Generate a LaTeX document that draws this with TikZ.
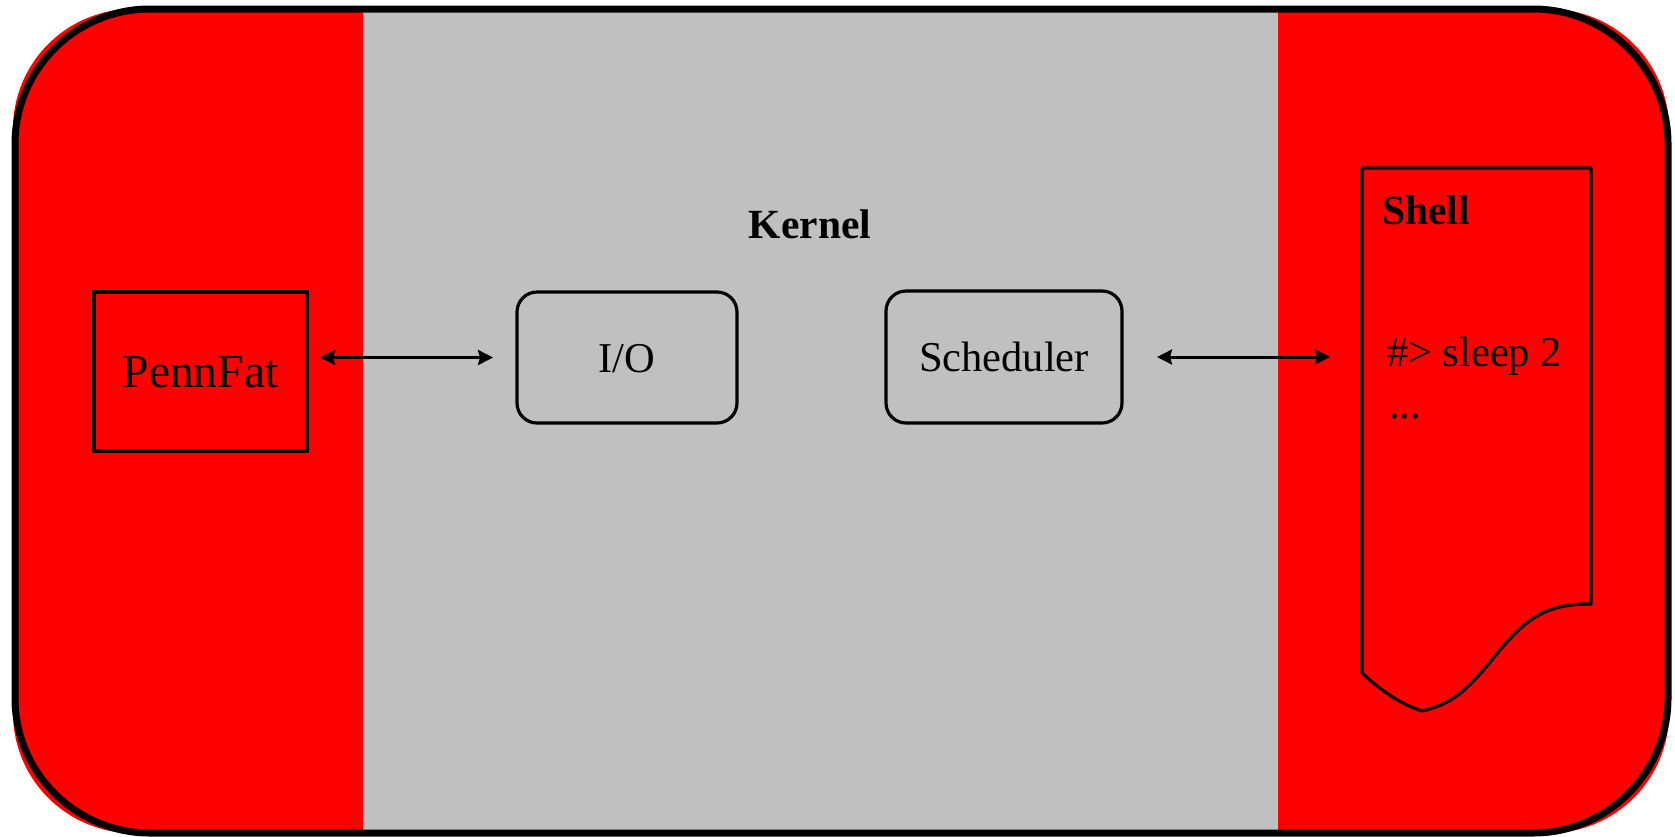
\documentclass[tikz,border=0pt]{standalone}
\usepackage{fontspec}
\setmainfont{Liberation Serif}
\usetikzlibrary{arrows.meta,calc}
\definecolor{userred}{RGB}{255,0,0}
\definecolor{kernelgrey}{RGB}{192,192,192}
\begin{document}
\begin{tikzpicture}[x=1pt,y=-1pt,
  box/.style={draw=black, line width=3.2pt, inner sep=0pt, outer sep=0pt,
              text height=29pt, text depth=0pt, font=\fontsize{42.5}{50}\selectfont},
  roundbox/.style={box, rounded corners=20pt},
  plaintext/.style={inner sep=0pt, outer sep=0pt, font=\fontsize{42.5}{52}\selectfont},
  titletext/.style={inner sep=0pt, outer sep=0pt, font=\bfseries\fontsize{41.5}{50}\selectfont},
  biarrow/.style={line width=3pt,
    {Stealth[length=15pt,width=15pt,inset=2pt]}-{Stealth[length=15pt,width=15pt,inset=2pt]}}
]
\useasboundingbox (0,0) rectangle (1675,836);

% user-space background, kernel band and the outer frame
\fill[userred, rounded corners=120pt] (13,9) rectangle (1669,833);
\fill[kernelgrey] (363,11) rectangle (1278,831);
\draw[line width=7pt, rounded corners=135pt] (15,9) rectangle (1668,833);

% kernel title
\node[titletext, anchor=base] (kernel) at (810,238) {Kernel};

% components
\node[box, minimum width=213pt, minimum height=159pt, text height=31pt,
      font=\fontsize{47.5}{56}\selectfont] (pennfat) at (200.5,371.5) {PennFat};
\node[roundbox, minimum width=220pt, minimum height=131pt] (io) at (627,357.5) {I/O};
\node[roundbox, minimum width=236pt, minimum height=132pt] (sched) at (1004,357) {Scheduler};

% shell: a document-shaped sheet
\node[inner sep=0pt, outer sep=0pt, minimum width=229pt, minimum height=543pt] (shell) at (1476.5,439.5) {};
\draw[line width=3.2pt, line join=round]
  (shell.north west) -- (shell.north east)
  -- ($(shell.north east)+(0,436)$)
  .. controls ($(shell.north east)+(-51,-1+436)$) and ($(shell.north east)+(-71,457)$) .. ($(shell.north east)+(-101,494)$)
  .. controls ($(shell.north east)+(-131,531)$) and ($(shell.north east)+(-146,537)$) .. ($(shell.south west)+(60,0)$)
  .. controls ($(shell.south west)+(38,-7)$) and ($(shell.south west)+(18,-21)$) .. ($(shell.north west)+(0,505)$)
  -- cycle;
\node[titletext, anchor=base west] (shelltitle) at (1382,224) {Shell};
\node[plaintext, anchor=base west] (cmd) at (1387,366) {\#> sleep 2};
\node[plaintext, anchor=base west] (more) at (1389,418) {...};

% connectors
\draw[biarrow, shorten <=13pt, shorten >=24pt] (pennfat.east |- io.west) -- (io.west);
\draw[biarrow, shorten <=35pt, shorten >=32pt] (sched.east) -- (shell.west |- sched.east);
\end{tikzpicture}
\end{document}
